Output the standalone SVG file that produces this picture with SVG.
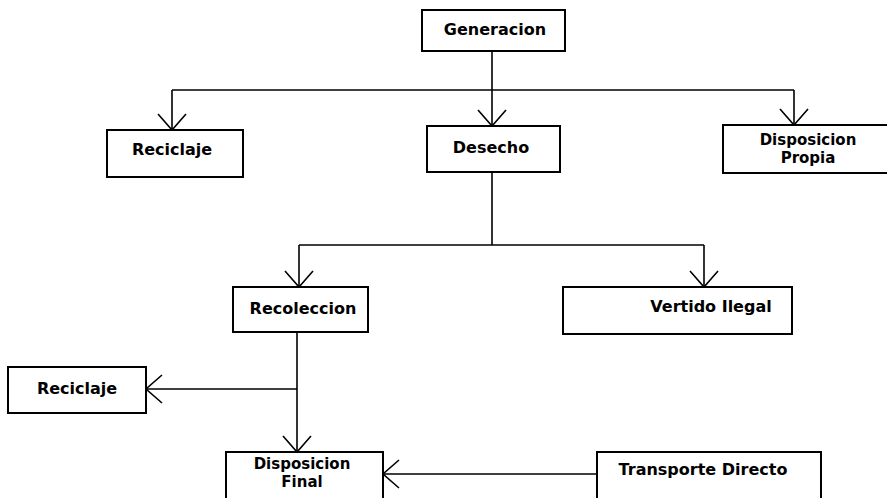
<svg xmlns="http://www.w3.org/2000/svg" width="887" height="498" viewBox="0 0 887 498">
<defs>
<marker id="arr" markerUnits="userSpaceOnUse" markerWidth="40" markerHeight="40" viewBox="-20 -20 40 40" refX="0" refY="0" orient="auto">
<path d="M-16,-14 L0,0 L-16,14" fill="none" stroke="#000" stroke-width="1.6"/>
</marker>
</defs>
<style>
.box{fill:#fff;stroke:#000;stroke-width:2}
.t{font-family:"DejaVu Sans",Verdana,sans-serif;font-weight:bold;font-size:16px;text-anchor:middle;fill:#000}
.t2{font-size:15px}
.c{fill:none;stroke:#000;stroke-width:1.6}
</style>
<rect width="887" height="498" fill="#fff"/>
<g id="connectors">
<path class="c" d="M492,51 V90"/>
<path class="c" d="M172,90 H794"/>
<path class="c" d="M172,90 V130" marker-end="url(#arr)"/>
<path class="c" d="M492,90 V126" marker-end="url(#arr)"/>
<path class="c" d="M794,90 V125" marker-end="url(#arr)"/>
<path class="c" d="M492,172 V245"/>
<path class="c" d="M299,245 H704"/>
<path class="c" d="M299,245 V287" marker-end="url(#arr)"/>
<path class="c" d="M704,245 V287" marker-end="url(#arr)"/>
<path class="c" d="M297,332 V452" marker-end="url(#arr)"/>
<path class="c" d="M297,389 H146" marker-end="url(#arr)"/>
<path class="c" d="M597,474 H383" marker-end="url(#arr)"/>
</g>
<g id="generacion"><rect class="box" x="422" y="10" width="143" height="41"/><text class="t" x="495" y="35">Generacion</text></g>
<g id="reciclaje1"><rect class="box" x="107" y="130" width="136" height="47"/><text class="t" x="172" y="155">Reciclaje</text></g>
<g id="desecho"><rect class="box" x="427" y="126" width="133" height="46"/><text class="t" x="491" y="153">Desecho</text></g>
<g id="disposicion-propia"><rect class="box" x="723" y="125" width="170" height="48"/><text class="t t2" x="808" y="145">Disposicion</text><text class="t t2" x="808" y="163">Propia</text></g>
<g id="recoleccion"><rect class="box" x="233" y="287" width="135" height="45"/><text class="t" x="303" y="314">Recoleccion</text></g>
<g id="vertido-ilegal"><rect class="box" x="563" y="287" width="229" height="47"/><text class="t" x="711" y="312">Vertido Ilegal</text></g>
<g id="reciclaje2"><rect class="box" x="8" y="367" width="138" height="46"/><text class="t" x="77" y="394">Reciclaje</text></g>
<g id="disposicion-final"><rect class="box" x="226" y="452" width="157" height="50"/><text class="t t2" x="302" y="469">Disposicion</text><text class="t t2" x="302" y="487">Final</text></g>
<g id="transporte-directo"><rect class="box" x="597" y="452" width="224" height="50"/><text class="t" x="703" y="475">Transporte Directo</text></g>
</svg>
